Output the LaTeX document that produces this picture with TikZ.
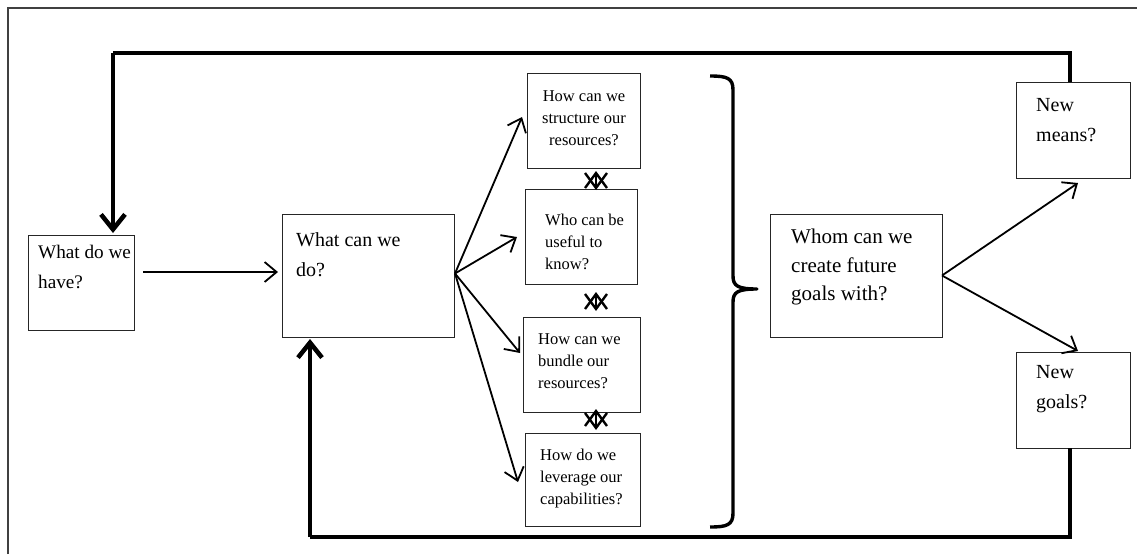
\documentclass[tikz,border=0pt]{standalone}
\usepackage{fontspec}
\setmainfont{Liberation Serif}
\usetikzlibrary{arrows.meta,calc}
\begin{document}
\begin{tikzpicture}[x=1pt,y=-1pt,
  box/.style={draw=black!85, line width=1pt, inner sep=0pt, outer sep=0pt},
  bigtxt/.style={anchor=north west, align=left, inner sep=0pt, font=\fontsize{20}{30}\selectfont},
  midtxt/.style={anchor=north west, align=left, inner sep=0pt, font=\fontsize{21}{28.5}\selectfont},
  smalltxt/.style={anchor=north west, align=left, inner sep=0pt, font=\fontsize{16.5}{22}\selectfont},
  thinarrow/.style={line width=1.8pt, -{Straight Barb[length=12pt,width=20pt]}},
  thickarrow/.style={line width=4.5pt, -{Straight Barb[length=15pt,width=24pt]}},
  thickline/.style={line width=4.5pt},
  dblarrow/.style={line width=2.4pt, {Straight Barb[length=15pt,width=22pt]}-{Straight Barb[length=15pt,width=22pt]}},
  bracestyle/.style={line width=3.4pt, line join=round},
  framestyle/.style={draw=black!75, line width=1.3pt}
]
\useasboundingbox (0,0) rectangle (1137,554);
% outer frame (left and top only)
\draw[framestyle] (8,554) -- (8,8) -- (1137,8);

% boxes
\node[box, minimum width=106pt, minimum height=95pt] (have) at (81,282.5) {};
\node[box, minimum width=172pt, minimum height=123pt] (do) at (368,275.5) {};
\node[box, minimum width=113pt, minimum height=95pt] (b1) at (583.5,120.5) {};
\node[box, minimum width=112pt, minimum height=95pt] (b2) at (581,236.5) {};
\node[box, minimum width=117pt, minimum height=95pt] (b3) at (581.5,364.5) {};
\node[box, minimum width=115pt, minimum height=93pt] (b4) at (582.5,479.5) {};
\node[box, minimum width=172pt, minimum height=123pt] (whom) at (856,275.5) {};
\node[box, minimum width=114pt, minimum height=96pt] (means) at (1073,130) {};
\node[box, minimum width=114pt, minimum height=96pt] (goals) at (1073,400) {};

% texts
\node[bigtxt, font=\fontsize{19.2}{30}\selectfont] (thave) at (38,245) {What do we\\have?};
\node[bigtxt] (tdo) at (296,232) {What can we\\do?};
\node[smalltxt, anchor=north, align=center] (t1) at (584,90.5) {How can we\\structure our\\resources?};
\node[smalltxt] (t2) at (545,213.5) {Who can be\\useful to\\know?};
\node[smalltxt] (t3) at (538,333.5) {How can we\\bundle our\\resources?};
\node[smalltxt] (t4) at (540,448.5) {How do we\\leverage our\\capabilities?};
\node[midtxt] (twhom) at (791,229) {Whom can we\\create future\\goals with?};
\node[bigtxt] (tmeans) at (1036,98) {New\\means?};
\node[bigtxt] (tgoals) at (1036,365) {New\\goals?};

% arrow end points
\coordinate (a0) at ($(have.east)+(9,-10.5)$);
\coordinate (a1) at ($(b1.west)+(-5,-3.5)$);
\coordinate (a2) at ($(b2.west)+(-8,0.5)$);
\coordinate (a3) at ($(b3.west)+(-3,-11.5)$);
\coordinate (a4) at ($(b4.west)+(-7,2.5)$);
\coordinate (am) at ($(means.south)+(5,5)$);
\coordinate (ag) at ($(goals.north)+(5,-1)$);

% thin arrows
\draw[thinarrow] (a0) -- ($(do.west |- a0)+(-4,0)$);
\draw[thinarrow] ($(do.east)+(1,-2)$) -- (a1);
\draw[thinarrow] ($(do.east)+(1,-2)$) -- (a2);
\draw[thinarrow] ($(do.east)+(1,-2)$) -- (a3);
\draw[thinarrow] ($(do.east)+(1,-2)$) -- (a4);
\draw[thinarrow] (whom.east) -- (am);
\draw[thinarrow] (whom.east) -- (ag);

% double arrows between the four boxes
\draw[dblarrow] ($(b1.south)+(12.5,3)$) -- ($(b2.north)+(15,1)$);
\draw[dblarrow] ($(b2.south)+(15,8)$) -- ($(b3.north)+(14.5,-6)$);
\draw[dblarrow] ($(b3.south)+(14.5,-3)$) -- ($(b4.north)+(13.5,-3)$);

% brace
\draw[bracestyle] (710,76) .. controls (727,76) and (733,78) .. (733,90)
  -- (733,276) .. controls (733,286) and (738,289) .. (757,289)
  .. controls (738,289) and (733,292) .. (733,302)
  -- (733,513) .. controls (733,525) and (727,527) .. (710,527);

% feedback loops
\coordinate (tl) at (113,53);
\coordinate (bl) at (310,537);
\draw[thickline] ($(means.north)+(-3,0)$) |- (tl);
\draw[thickarrow] (tl) -- ($(have.north -| tl)+(0,-2)$);
\draw[thickline] ($(goals.south)+(-3,0)$) |- (bl);
\draw[thickarrow] (bl) -- ($(do.south -| bl)+(0,2)$);
\end{tikzpicture}
\end{document}
